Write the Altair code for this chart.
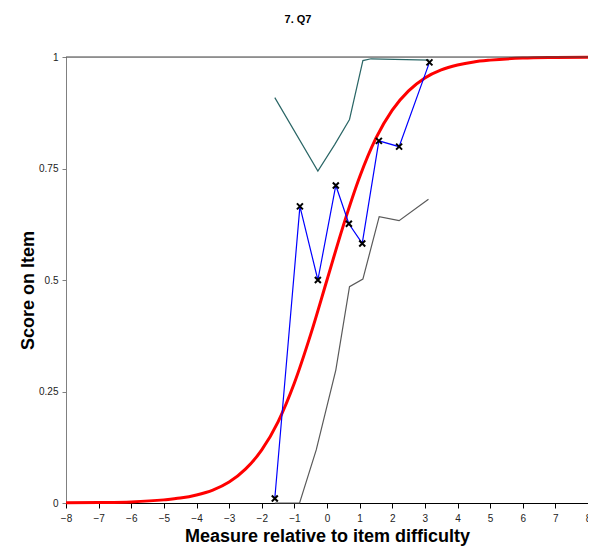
import altair as alt
import pandas as pd

# ---- data ----
x_ticks = list(range(-8, 9))
y_ticks = [0, 0.25, 0.5, 0.75, 1]

obs_x = [-1.6, -0.83, -0.28, 0.27, 0.67, 1.08, 1.59, 2.21, 3.14]
obs_y = [0.01, 0.665, 0.50, 0.712, 0.626, 0.582, 0.812, 0.799, 0.988]

upper_x = [-1.6, -0.28, 0.24, 0.69, 1.10, 1.35, 3.14]
upper_y = [0.909, 0.744, 0.804, 0.860, 0.992, 0.996, 0.993]

lower_x = [-1.6, -0.84, -0.33, 0.27, 0.69, 1.10, 1.60, 2.21, 3.11]
lower_y = [0.0, 0.0, 0.119, 0.298, 0.485, 0.502, 0.642, 0.633, 0.681]

model_x = [-8, -7, -6, -5, -4.5, -4, -3.5, -3, -2.5, -2, -1.5, -1, -0.5, 0,
           0.5, 1, 1.5, 2, 2.5, 3, 3.5, 4, 4.5, 5, 6, 7, 8]
model_y = [0.0003, 0.001, 0.0025, 0.007, 0.011, 0.018, 0.029, 0.047, 0.076,
           0.119, 0.182, 0.269, 0.378, 0.5, 0.622, 0.731, 0.818, 0.881,
           0.924, 0.953, 0.971, 0.982, 0.989, 0.993, 0.9975, 0.999, 0.9997]

obs = pd.DataFrame({"x": obs_x, "y": obs_y})
upper = pd.DataFrame({"x": upper_x, "y": upper_y})
lower = pd.DataFrame({"x": lower_x, "y": lower_y})
model = pd.DataFrame({"x": model_x, "y": model_y})
top = pd.DataFrame({"y": [1]})

FONT = "Liberation Sans"

xs = alt.Scale(domain=[-8, 8], nice=False, zero=False)
ys = alt.Scale(domain=[0, 1], nice=False)

x_axis = alt.Axis(values=x_ticks, title="Measure relative to item difficulty",
                  grid=False, domainColor="black", tickColor="black", tickSize=5,
                  labelFont=FONT, labelFontSize=10, labelColor="#222222",
                  labelPadding=5, labelFlush=False, labelOverlap=False,
                  titleFont=FONT, titleFontSize=18, titleFontWeight="bold",
                  titleColor="black", titleY=33, titleBaseline="middle")
y_axis = alt.Axis(values=y_ticks, title="Score on Item", grid=False,
                  domainColor="#808080", tickColor="#808080", tickSize=4,
                  labelExpr="'' + datum.value", labelOverlap=False,
                  labelFont=FONT, labelFontSize=10, labelColor="#222222",
                  labelPadding=4,
                  titleFont=FONT, titleFontSize=18, titleFontWeight="bold",
                  titleColor="black", titleX=-38, titleY=233,
                  titleBaseline="middle", titleAlign="center", titleAngle=270)

X = alt.X("x:Q", scale=xs, axis=x_axis)
Y = alt.Y("y:Q", scale=ys, axis=y_axis)

top_rule = alt.Chart(top).mark_rule(
    color="#404040", strokeWidth=1).encode(y=Y)

model_line = alt.Chart(model).mark_line(
    color="#FF0000", strokeWidth=3, interpolate="monotone").encode(x=X, y=Y)

upper_line = alt.Chart(upper).mark_line(
    color="#2A6666", strokeWidth=1.2).encode(x=X, y=Y)
lower_line = alt.Chart(lower).mark_line(
    color="#5A5A5A", strokeWidth=1.2).encode(x=X, y=Y)
obs_line = alt.Chart(obs).mark_line(
    color="#0000FF", strokeWidth=1.2).encode(x=X, y=Y)
obs_pts = alt.Chart(obs).mark_point(
    shape="M-1,-1L1,1M-1,1L1,-1", size=36, color="black", strokeWidth=2,
    filled=False, opacity=1).encode(x=X, y=Y)

chart = alt.layer(
    model_line, top_rule, upper_line, lower_line, obs_line, obs_pts
).properties(
    width=522, height=446,
    title=alt.TitleParams("7. Q7", font=FONT, fontSize=11, fontWeight="bold",
                          color="black", anchor="middle", dx=-29, offset=26),
    autosize=alt.AutoSizeParams(type="none"),
    padding={"left": 58, "top": 49, "right": 0, "bottom": 45},
).configure_view(stroke=None).configure(background="white")

chart.save("out.html", embed_options={"renderer": "svg", "actions": False})
